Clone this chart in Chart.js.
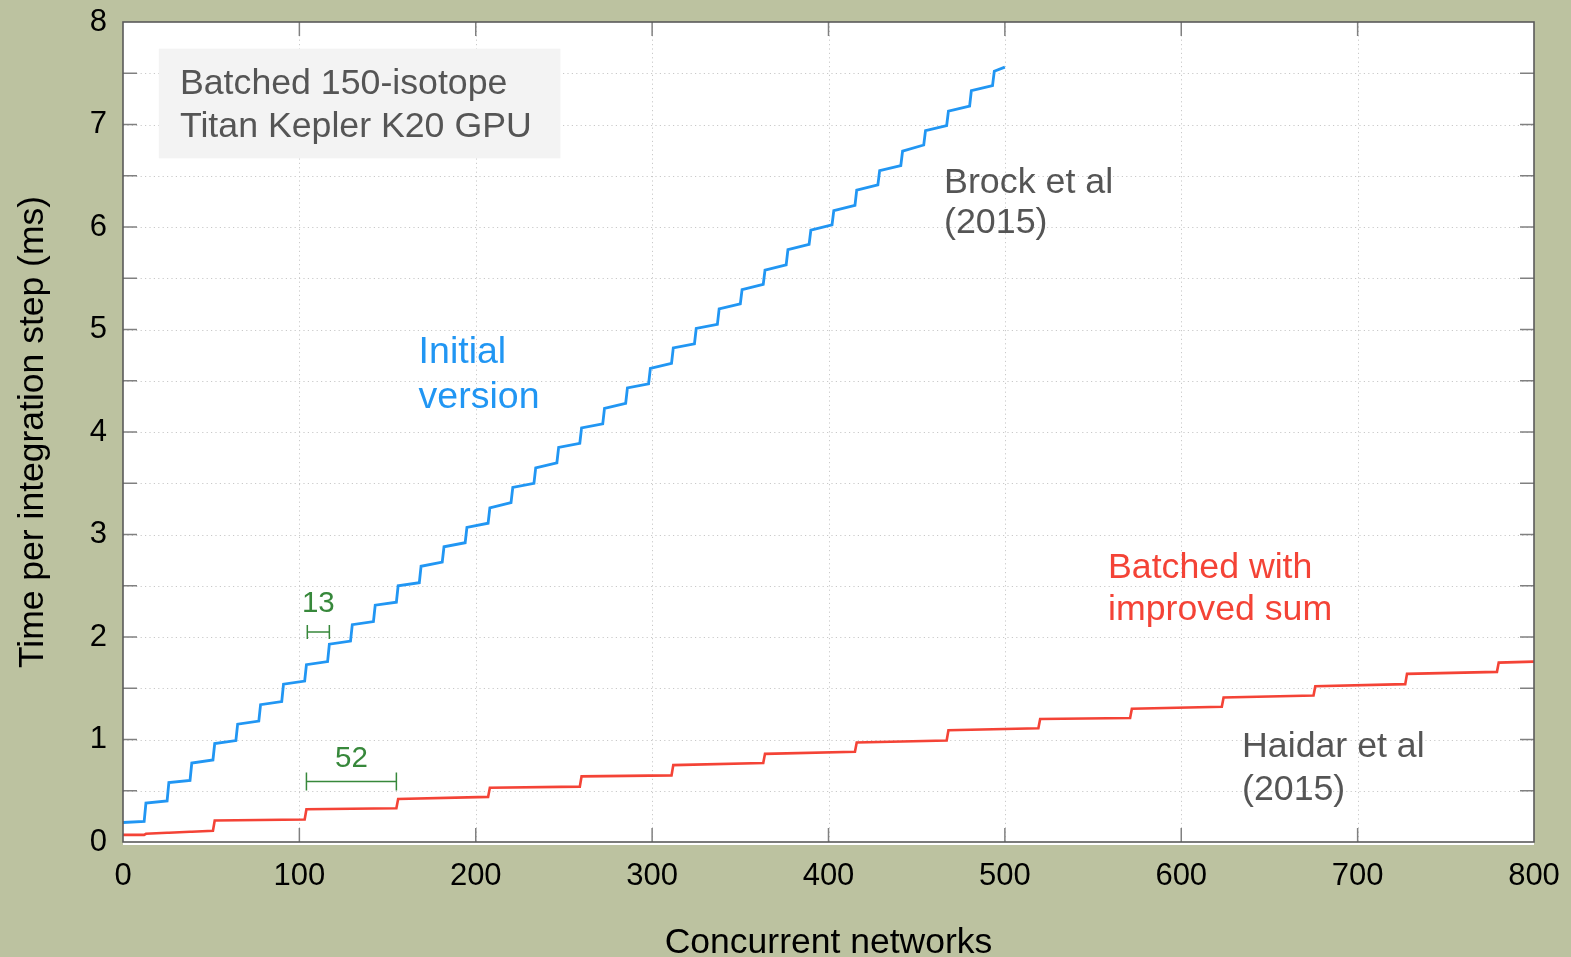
<!DOCTYPE html>
<html>
<head>
<meta charset="utf-8">
<title>Time per integration step</title>
<script src="https://cdn.jsdelivr.net/npm/chart.js@4.4.1/dist/chart.umd.min.js"></script>
<style>
  html, body { margin: 0; padding: 0; background: #bcc2a0; overflow: hidden; }
  #wrap { width: 1571px; height: 957px; }
</style>
</head>
<body>
<div id="wrap"><canvas id="chart" width="1571" height="957"></canvas></div>
<script>
// Initial version (Brock et al 2015): a step every 13 networks
const initialStepX = [0,13,26,39,52,65,78,91,104,117,130,143,156,169,182,195,208,221,234,247,
                      260,273,286,299,312,325,338,351,364,377,390,403,416,429,442,455,468,481,494];
const initialStart = [0.19,0.38,0.58,0.77,0.96,1.15,1.34,1.54,1.73,1.93,2.12,2.31,2.50,2.69,2.88,3.07,3.26,3.46,3.65,3.85,
                      4.04,4.23,4.43,4.62,4.82,5.01,5.20,5.39,5.58,5.78,5.97,6.16,6.36,6.55,6.74,6.94,7.13,7.33,7.52];
const initialEnd   = [0.20,0.40,0.60,0.80,0.99,1.18,1.37,1.57,1.76,1.96,2.15,2.34,2.53,2.73,2.92,3.11,3.31,3.50,3.70,3.89,
                      4.08,4.28,4.47,4.67,4.86,5.05,5.25,5.44,5.63,5.83,6.02,6.21,6.41,6.60,6.80,6.99,7.18,7.38,7.56];
const initialLastX = 500;

// Batched with improved sum (Haidar et al 2015): a step every 52 networks
const improvedStepX = [0,13,26,39,52,104,156,208,260,312,364,416,468,520,572,624,676,728,780];
const improvedStart = [0.07,0.08,0.09,0.10,0.21,0.32,0.42,0.53,0.64,0.75,0.86,0.97,1.09,1.20,1.30,1.41,1.52,1.64,1.75];
const improvedEnd   = [0.07,0.09,0.10,0.11,0.22,0.33,0.44,0.54,0.65,0.77,0.88,0.99,1.11,1.21,1.32,1.43,1.54,1.66,1.76];
const improvedLastX = 800;

const xTicks = [0,100,200,300,400,500,600,700,800];
const yTicks = [0,1,2,3,4,5,6,7,8];

const FONT = "'Liberation Sans', Arial, sans-serif";
const OLIVE = '#bcc2a0';
const BLUE = '#2196f3';
const RED = '#f44336';
const GREEN = '#37883b';
const GREY = '#555555';

function stepPoints(xs, y0, y1, lastX) {
  const pts = [];
  xs.forEach((x, i) => {
    const next = i < xs.length - 1 ? xs[i + 1] - 1 : lastX;
    pts.push({x: x, y: y0[i]});
    pts.push({x: next, y: y1[i]});
  });
  return pts;
}

// text notes in data coordinates
const notes = [
  {lines: ['Batched 150-isotope', 'Titan Kepler K20 GPU'], x: 32.3, y: [7.30, 6.88], color: GREY, size: 35.7},
  {lines: ['Initial', 'version'], x: 167.6, y: [4.67, 4.23], color: BLUE, size: 37.5},
  {lines: ['Brock et al', '(2015)'], x: 465.5, y: [6.33, 5.94], color: GREY, size: 35.8},
  {lines: ['Batched with', 'improved sum'], x: 558.5, y: [2.58, 2.17], color: RED, size: 35.7},
  {lines: ['Haidar et al', '(2015)'], x: 634.5, y: [0.83, 0.41], color: GREY, size: 35.7},
];
const spans = [
  {label: '13', from: 104.5, to: 117, y: 2.05, labelY: 2.245},
  {label: '52', from: 104, to: 155, y: 0.59, labelY: 0.735},
];

const framePlugin = {
  id: 'frame',
  beforeDraw(chart) {
    const {ctx, chartArea: a} = chart;
    ctx.save();
    ctx.fillStyle = OLIVE;
    ctx.fillRect(0, 0, chart.width, chart.height);
    ctx.fillStyle = '#ffffff';
    ctx.fillRect(a.left, a.top, a.right - a.left, a.bottom - a.top + 3);
    ctx.restore();
  },
  beforeDatasetsDraw(chart) {
    const {ctx, chartArea: a, scales: {x, y}} = chart;
    ctx.save();
    ctx.strokeStyle = '#c9c9c9';
    ctx.lineWidth = 1;
    ctx.setLineDash([1.2, 3.2]);
    for (let v = 0.5; v < 8; v += 0.5) {
      const py = Math.round(y.getPixelForValue(v)) + 0.5;
      ctx.beginPath(); ctx.moveTo(a.left, py); ctx.lineTo(a.right, py); ctx.stroke();
    }
    xTicks.slice(1, -1).forEach(v => {
      const px = Math.round(x.getPixelForValue(v)) + 0.5;
      ctx.beginPath(); ctx.moveTo(px, a.top); ctx.lineTo(px, a.bottom); ctx.stroke();
    });
    ctx.restore();
  },
  afterDatasetsDraw(chart) {
    const {ctx, chartArea: a, scales: {x, y}} = chart;
    ctx.save();
    // inward ticks
    ctx.strokeStyle = '#808080';
    ctx.lineWidth = 1.5;
    const tl = 14;
    for (let v = 0.5; v < 8; v += 0.5) {
      const py = y.getPixelForValue(v);
      ctx.beginPath(); ctx.moveTo(a.left, py); ctx.lineTo(a.left + tl, py); ctx.stroke();
      ctx.beginPath(); ctx.moveTo(a.right, py); ctx.lineTo(a.right - tl, py); ctx.stroke();
    }
    xTicks.slice(1, -1).forEach(v => {
      const px = x.getPixelForValue(v);
      ctx.beginPath(); ctx.moveTo(px, a.bottom); ctx.lineTo(px, a.bottom - tl); ctx.stroke();
      ctx.beginPath(); ctx.moveTo(px, a.top); ctx.lineTo(px, a.top + tl); ctx.stroke();
    });
    // frame
    ctx.strokeStyle = '#5a5a5a';
    ctx.lineWidth = 1.6;
    ctx.strokeRect(a.left, a.top, a.right - a.left, a.bottom - a.top);

    // info box
    ctx.fillStyle = '#f3f3f3';
    const bx0 = x.getPixelForValue(20.3), bx1 = x.getPixelForValue(248);
    const by0 = y.getPixelForValue(7.74), by1 = y.getPixelForValue(6.67);
    ctx.fillRect(bx0, by0, bx1 - bx0, by1 - by0);

    ctx.textBaseline = 'alphabetic';
    ctx.textAlign = 'left';
    notes.forEach(n => {
      ctx.fillStyle = n.color;
      ctx.font = n.size + 'px ' + FONT;
      n.lines.forEach((t, i) => ctx.fillText(t, x.getPixelForValue(n.x), y.getPixelForValue(n.y[i])));
    });

    // spacing brackets
    ctx.strokeStyle = GREEN;
    ctx.fillStyle = GREEN;
    ctx.lineWidth = 1.5;
    ctx.font = '29.5px ' + FONT;
    ctx.textAlign = 'center';
    spans.forEach(s => {
      const x0 = x.getPixelForValue(s.from), x1 = x.getPixelForValue(s.to);
      const py = y.getPixelForValue(s.y);
      const cap = s.label === '13' ? 7 : 9;
      ctx.beginPath();
      ctx.moveTo(x0, py); ctx.lineTo(x1, py);
      ctx.moveTo(x0, py - cap); ctx.lineTo(x0, py + cap);
      ctx.moveTo(x1, py - cap); ctx.lineTo(x1, py + cap);
      ctx.stroke();
      ctx.fillText(s.label, (x0 + x1) / 2, y.getPixelForValue(s.labelY));
    });
    ctx.restore();
  }
};

new Chart(document.getElementById('chart').getContext('2d'), {
  type: 'line',
  data: {
    datasets: [
      {label: 'Initial version', data: stepPoints(initialStepX, initialStart, initialEnd, initialLastX),
       borderColor: BLUE, borderWidth: 2.8, pointRadius: 0, tension: 0, fill: false},
      {label: 'Batched with improved sum', data: stepPoints(improvedStepX, improvedStart, improvedEnd, improvedLastX),
       borderColor: RED, borderWidth: 2.6, pointRadius: 0, tension: 0, fill: false},
    ]
  },
  options: {
    responsive: false,
    devicePixelRatio: 1,
    animation: false,
    layout: {padding: {top: 22, right: 37, left: 0, bottom: 0}},
    plugins: {legend: {display: false}, tooltip: {enabled: false}},
    scales: {
      x: {
        type: 'linear', min: 0, max: 800,
        afterFit: s => { s.height = 115; s.paddingLeft = 0; s.paddingRight = 0; },
        afterBuildTicks: s => { s.ticks = xTicks.map(v => ({value: v})); },
        grid: {display: false, drawTicks: false}, border: {display: false},
        ticks: {color: '#000', padding: 16, maxRotation: 0, font: {family: FONT, size: 31}},
        title: {display: true, text: 'Concurrent networks', color: '#000',
                font: {family: FONT, size: 35.5, lineHeight: 0.7}, padding: {bottom: 1}}
      },
      y: {
        type: 'linear', min: 0, max: 8,
        afterFit: s => { s.width = 123; s.paddingTop = 0; s.paddingBottom = 0; },
        afterBuildTicks: s => { s.ticks = yTicks.map(v => ({value: v})); },
        grid: {display: false, drawTicks: false}, border: {display: false},
        ticks: {color: '#000', padding: 16, font: {family: FONT, size: 31}},
        title: {display: true, text: 'Time per integration step (ms)', color: '#000',
                font: {family: FONT, size: 35.5, lineHeight: 1}, padding: {top: 15}}
      }
    }
  },
  plugins: [framePlugin]
});
</script>
</body>
</html>
